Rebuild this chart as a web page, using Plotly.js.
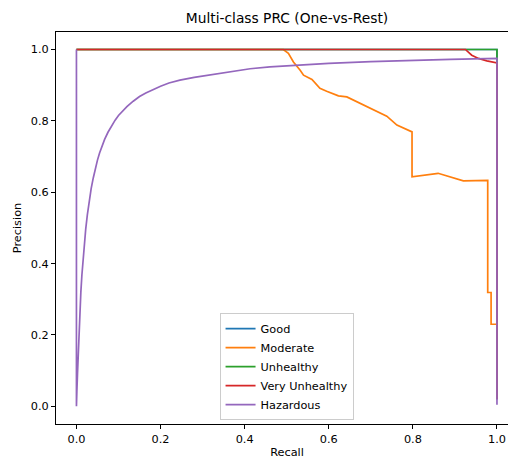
<!DOCTYPE html>
<html>
<head>
<meta charset="utf-8">
<script src="https://cdn.plot.ly/plotly-3.0.1.min.js"></script>
<style>
html,body{margin:0;padding:0;overflow:hidden;background:#fff;}
#chart{width:530px;height:459px;}
</style>
</head>
<body>
<div id="chart"></div>
<script>
// Class names
const classNames = ["Good", "Moderate", "Unhealthy", "Very Unhealthy", "Hazardous"];

// Good (hidden beneath others)
const goodRecall    = [0, 1, 1];
const goodPrecision = [1, 1, 0.02];

// Moderate
const moderateRecall = [0, 0.492, 0.504, 0.516, 0.532, 0.54, 0.56, 0.579, 0.595, 0.623, 0.643, 0.667, 0.686, 0.71, 0.738, 0.762, 0.778, 0.798,
  0.798, 0.86, 0.92, 0.978, 0.978, 0.986, 0.986, 1.0, 1.0];
const moderatePrecision = [1, 1, 0.989, 0.965, 0.942, 0.928, 0.916, 0.891, 0.883, 0.870, 0.867, 0.853, 0.844, 0.83, 0.813, 0.788, 0.779, 0.769,
  0.643, 0.653, 0.632, 0.633, 0.319, 0.319, 0.23, 0.23, 0.05];

// Unhealthy
const unhealthyRecall    = [0, 1, 1];
const unhealthyPrecision = [1, 1, 0.02];

// Very Unhealthy
const veryUnhealthyRecall    = [0, 0.925, 0.94, 0.956, 0.976, 0.998, 1.0, 1.0];
const veryUnhealthyPrecision = [1, 1, 0.984, 0.975, 0.968, 0.963, 0.962, 0.02];

// Hazardous
const hazardousRecall = [0, 0, 0.001, 0.0025, 0.004, 0.006, 0.008, 0.0105, 0.013, 0.016, 0.019, 0.022, 0.026, 0.03, 0.035, 0.04, 0.045,
  0.05, 0.055, 0.06, 0.067, 0.075, 0.083, 0.092, 0.1, 0.11, 0.12, 0.135, 0.15, 0.165, 0.18, 0.2, 0.22, 0.246, 0.28, 0.32, 0.36,
  0.413, 0.46, 0.52, 0.6, 0.7, 0.8, 0.889, 1.0, 1.0];
const hazardousPrecision = [1, 0, 0.04, 0.09, 0.145, 0.205, 0.26, 0.32, 0.368, 0.417, 0.459, 0.496, 0.537, 0.572, 0.61, 0.64, 0.667,
  0.69, 0.71, 0.727, 0.748, 0.768, 0.786, 0.802, 0.815, 0.829, 0.84, 0.855, 0.868, 0.878, 0.887, 0.897, 0.906, 0.914, 0.922, 0.929, 0.935,
  0.946, 0.951, 0.956, 0.961, 0.966, 0.970, 0.972, 0.975, 0.004];

// x/y tick values / labels
const tickVals = [0, 0.2, 0.4, 0.6, 0.8, 1.0];
const tickText = ["0.0", "0.2", "0.4", "0.6", "0.8", "1.0"];

const colors = ["#1f77b4", "#ff7f0e", "#2ca02c", "#d62728", "#9467bd"];
const xs = [goodRecall, moderateRecall, unhealthyRecall, veryUnhealthyRecall, hazardousRecall];
const ys = [goodPrecision, moderatePrecision, unhealthyPrecision, veryUnhealthyPrecision, hazardousPrecision];

const font = "DejaVu Sans, sans-serif";
const traces = classNames.map((n, i) => ({
  x: xs[i], y: ys[i], name: n, type: "scatter", mode: "lines",
  line: {color: colors[i], width: 1.7}
}));

const axisCommon = {
  showgrid: false, zeroline: false, showline: true, linecolor: "#000", linewidth: 1, mirror: true,
  ticks: "outside", ticklen: 4, tickwidth: 1, tickcolor: "#000",
  tickfont: {family: font, size: 11.3, color: "#000"},
  tickvals: tickVals, ticktext: tickText
};

const layout = {
  width: 530, height: 459,
  margin: {l: 56, r: 12, t: 32, b: 35},
  paper_bgcolor: "#fff", plot_bgcolor: "#fff",
  font: {family: font, color: "#000"},
  title: {text: "Multi-class PRC (One-vs-Rest)", font: {family: font, size: 13.8, color: "#000"},
    x: 0.5, xref: "paper", xanchor: "center", y: 1 - 18.5/459, yref: "container", yanchor: "middle"},
  xaxis: Object.assign({}, axisCommon, {range: [-0.0486, 1.05],
    title: {text: "Recall", font: {family: font, size: 11.3, color: "#000"}, standoff: 3}}),
  yaxis: Object.assign({}, axisCommon, {range: [-0.0496, 1.049],
    title: {text: "Precision", font: {family: font, size: 11.3, color: "#000"}, standoff: 6}}),
  showlegend: true,
  legend: {x: 0.354, y: 0.01, xanchor: "left", yanchor: "bottom",
    bgcolor: "rgba(255,255,255,0.8)", bordercolor: "#cccccc", borderwidth: 1,
    font: {family: font, size: 11.3, color: "#000"}, itemwidth: 30, tracegroupgap: 0}
};

Plotly.newPlot("chart", traces, layout, {displayModeBar: false, staticPlot: true});
</script>
</body>
</html>
